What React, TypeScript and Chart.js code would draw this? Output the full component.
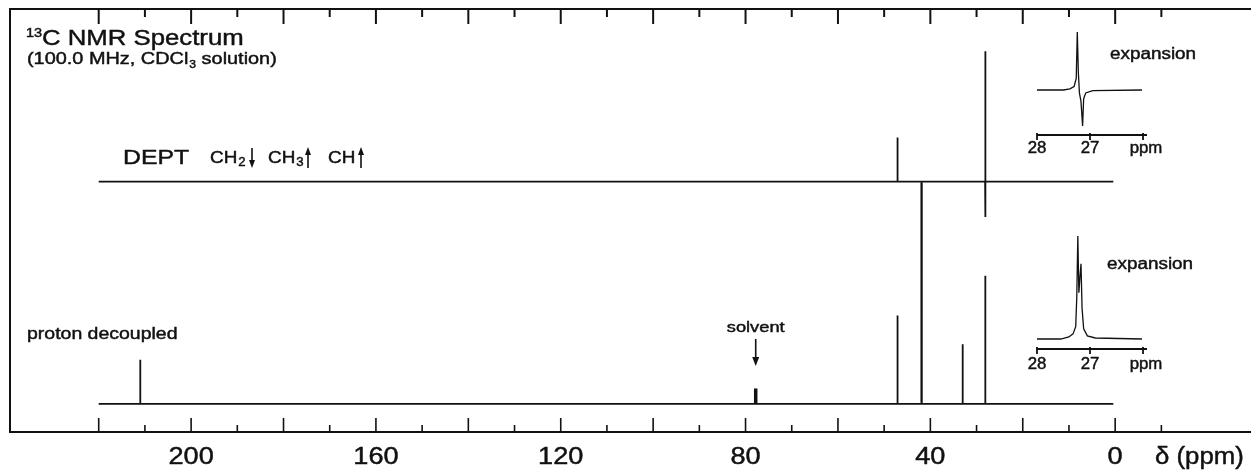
import React, { useEffect, useRef } from 'react';
import { Chart, registerables } from 'chart.js';
Chart.register(...registerables);

// ---------------- data ----------------
const traceStartPpm = 220;
const traceEndPpm = 0.4;
// proton decoupled spectrum (lower trace)
const decoupledShifts = [211.0, 47.1, 41.9, 33.0, 28.1];
const decoupledHeights = [20, 40, 100, 27, 58];
const solventShift = 77.8;
const solventHeight = 7;
// DEPT spectrum (upper trace); CH2 negative, CH/CH3 positive
const deptShifts = [47.1, 41.9, 28.15, 28.05];
const deptHeights = [20, -100, 59, -16];
// main axis
const axisTicks = [220, 210, 200, 190, 180, 170, 160, 150, 140, 130, 120, 110, 100, 90, 80, 70, 60, 50, 40, 30, 20, 10, 0, -10];
const axisLabels = [200, 160, 120, 80, 40, 0];
// expansions of the 27 ppm signal
const expansionTicks = [28, 27, 26];
const expansionTickLabels = ['28', '27', 'ppm'];
const deptExpPpm = [28.0, 27.5, 27.38, 27.3, 27.26, 27.24, 27.22, 27.2, 27.17, 27.14, 27.12, 27.08, 26.95, 26.02];
const deptExpInt = [0, 0, 2, 6, 20, 100, 30, -5, -20, -62, -15, -5, -1, 0];
const decExpPpm = [28.0, 27.55, 27.4, 27.32, 27.27, 27.25, 27.23, 27.21, 27.19, 27.17, 27.15, 27.12, 27.05, 26.9, 26.02];
const decExpInt = [0, 0, 2, 5, 12, 40, 100, 45, 60, 73, 30, 10, 3, 1, 0];

// ---------------- helpers ----------------
const INK = '#111';
const FONT = '"Liberation Sans", Arial, Helvetica, sans-serif';
const SX = 1.18;

function sticks(shifts: number[], heights: number[], from: number, to: number) {
  const order = shifts.map((_, i) => i).sort((a, b) => shifts[b] - shifts[a]);
  const pts: { x: number; y: number }[] = [{ x: from, y: 0 }];
  order.forEach((i) => {
    pts.push({ x: shifts[i], y: 0 }, { x: shifts[i], y: heights[i] }, { x: shifts[i], y: 0 });
  });
  pts.push({ x: to, y: 0 });
  return pts;
}

function curve(xs: number[], ys: number[]) {
  return xs.map((x, i) => ({ x, y: ys[i] }));
}

function txt(ctx: CanvasRenderingContext2D, s: string, x: number, y: number, size: number, align = 'left', sx = SX) {
  ctx.save();
  ctx.font = `${size}px ${FONT}`;
  ctx.textBaseline = 'alphabetic';
  ctx.textAlign = 'left';
  const w = ctx.measureText(s).width * sx;
  let x0 = x;
  if (align === 'center') x0 = x - w / 2;
  else if (align === 'right') x0 = x - w;
  ctx.translate(x0, y);
  ctx.scale(sx, 1);
  ctx.fillStyle = INK;
  ctx.strokeStyle = INK;
  ctx.lineWidth = 0.45;
  ctx.fillText(s, 0, 0);
  ctx.strokeText(s, 0, 0);
  ctx.restore();
  return x0 + w;
}

function line(ctx: CanvasRenderingContext2D, x1: number, y1: number, x2: number, y2: number, w: number) {
  ctx.save();
  ctx.strokeStyle = INK;
  ctx.lineWidth = w;
  ctx.beginPath();
  ctx.moveTo(x1, y1);
  ctx.lineTo(x2, y2);
  ctx.stroke();
  ctx.restore();
}

function arrow(ctx: CanvasRenderingContext2D, x: number, yFrom: number, yTo: number, head = 8, hw = 3) {
  const dir = yTo > yFrom ? 1 : -1;
  line(ctx, x, yFrom, x, yTo - dir * head * 0.6, 1.6);
  ctx.save();
  ctx.fillStyle = INK;
  ctx.beginPath();
  ctx.moveTo(x, yTo);
  ctx.lineTo(x - hw, yTo - dir * head);
  ctx.lineTo(x + hw, yTo - dir * head);
  ctx.closePath();
  ctx.fill();
  ctx.restore();
}

// ---------------- main chart plugin ----------------
const mainDecor = {
  id: 'mainDecor',
  afterDatasetsDraw(chart: any) {
    const ctx: CanvasRenderingContext2D = chart.ctx;
    const { left, right, top, bottom } = chart.chartArea;
    const xs = chart.scales.x;
    // frame
    line(ctx, left, top - 1, left, bottom + 1, 2);
    line(ctx, left, top, right, top, 2);
    line(ctx, left, bottom, right, bottom, 2);
    // ticks top & bottom
    axisTicks.forEach((v) => {
      const px = xs.getPixelForValue(v);
      const long = v % 20 === 0;
      line(ctx, px, bottom, px, bottom - (long ? 14 : 7), 1.6);
      line(ctx, px, top, px, top + (long ? 15 : 8), 2);
    });
    axisLabels.forEach((v) => {
      txt(ctx, String(v), xs.getPixelForValue(v), 464, 23, 'center');
    });
    txt(ctx, 'δ (ppm)', 1155, 464, 23, 'left', 1.12);

    // title block
    txt(ctx, '13', 26, 37, 13, 'left', 1.12);
    txt(ctx, 'C NMR Spectrum', 42, 45, 22, 'left', 1.17);
    let x = txt(ctx, '(100.0 MHz, CDCl', 27, 64, 17, 'left', 1.17);
    x = txt(ctx, '3', x + 1, 68, 11, 'left', 1.1);
    txt(ctx, ' solution)', x, 64, 17, 'left', 1.17);

    // DEPT label
    txt(ctx, 'DEPT', 123, 164, 21, 'left');
    x = txt(ctx, 'CH', 210, 163, 16, 'left');
    txt(ctx, '2', x + 1, 166, 12, 'left', 1.1);
    arrow(ctx, 252, 148, 168);
    x = txt(ctx, 'CH', 268, 163, 16, 'left');
    txt(ctx, '3', x + 1, 166, 12, 'left', 1.1);
    arrow(ctx, 308, 168, 147);
    txt(ctx, 'CH', 328, 163, 16, 'left');
    arrow(ctx, 361, 168, 147);

    // lower trace labels
    txt(ctx, 'proton decoupled', 27, 339, 16.5, 'left');
    const sx = xs.getPixelForValue(solventShift);
    txt(ctx, 'solvent', sx, 332, 15.5, 'center');
    arrow(ctx, sx, 339, 366, 9, 3.5);

    // expansion captions
    txt(ctx, 'expansion', 1110, 59, 16, 'left');
    txt(ctx, 'expansion', 1107, 269, 16, 'left');
  },
};

function makeInsetDecor(labelBaseline: number) {
  return {
    id: 'insetDecor',
    afterDatasetsDraw(chart: any) {
      const ctx: CanvasRenderingContext2D = chart.ctx;
      const { left, right, bottom } = chart.chartArea;
      const xs = chart.scales.x;
      line(ctx, left, bottom, right, bottom, 1.8);
      expansionTicks.forEach((v, i) => {
        const px = xs.getPixelForValue(v);
        line(ctx, px, bottom - 2, px, bottom + 5, 1.8);
        txt(ctx, expansionTickLabels[i], px + (i === 2 ? 3 : 0), labelBaseline, 16, 'center', 1.05);
      });
    },
  };
}

function baseOptions(xmin: number, xmax: number, ymin: number, ymax: number, padding: any) {
  return {
    animation: false,
    responsive: false,
    events: [],
    layout: { padding },
    plugins: { legend: { display: false }, tooltip: { enabled: false } },
    scales: {
      x: { type: 'linear', reverse: true, min: xmin, max: xmax, display: false },
      y: { type: 'linear', min: ymin, max: ymax, display: false },
    },
  };
}

export default function App() {
  const mainRef = useRef<HTMLCanvasElement>(null);
  const inset1Ref = useRef<HTMLCanvasElement>(null);
  const inset2Ref = useRef<HTMLCanvasElement>(null);

  useEffect(() => {
    const main = new Chart(mainRef.current as HTMLCanvasElement, {
      type: 'scatter',
      data: {
        datasets: [
          {
            label: 'DEPT',
            data: sticks(deptShifts, deptHeights, traceStartPpm, traceEndPpm),
            yAxisID: 'yd',
            showLine: true,
            borderColor: INK,
            borderWidth: 1.8,
            pointRadius: 0,
          },
          {
            label: 'proton decoupled',
            data: sticks(decoupledShifts, decoupledHeights, traceStartPpm, traceEndPpm),
            yAxisID: 'y',
            showLine: true,
            borderColor: INK,
            borderWidth: 1.8,
            pointRadius: 0,
          },
          {
            label: 'solvent',
            data: [
              { x: solventShift, y: 0 },
              { x: solventShift, y: solventHeight },
            ],
            yAxisID: 'y',
            showLine: true,
            borderColor: INK,
            borderWidth: 3.5,
            pointRadius: 0,
          },
        ],
      },
      options: {
        animation: false,
        responsive: false,
        events: [],
        layout: { padding: { left: 10, top: 9, right: 0, bottom: 42 } },
        plugins: { legend: { display: false }, tooltip: { enabled: false } },
        scales: {
          x: { type: 'linear', reverse: true, min: -29.4, max: 239.2, display: false },
          y: { type: 'linear', min: -12.7, max: 178.7, display: false },
          yd: { type: 'linear', min: -113.3, max: 78.1, display: false },
        },
      } as any,
      plugins: [mainDecor],
    } as any);

    const inset1 = new Chart(inset1Ref.current as HTMLCanvasElement, {
      type: 'scatter',
      data: {
        datasets: [
          {
            label: 'DEPT expansion',
            data: curve(deptExpPpm, deptExpInt),
            showLine: true,
            borderColor: INK,
            borderWidth: 1.3,
            pointRadius: 0,
            tension: 0,
          },
        ],
      },
      options: baseOptions(25.925, 28.0, -77.6, 106.9, { left: 17, right: 23, top: 8, bottom: 25 }) as any,
      plugins: [makeInsetDecor(133)],
    } as any);

    const inset2 = new Chart(inset2Ref.current as HTMLCanvasElement, {
      type: 'scatter',
      data: {
        datasets: [
          {
            label: 'decoupled expansion',
            data: curve(decExpPpm, decExpInt),
            showLine: true,
            borderColor: INK,
            borderWidth: 1.3,
            pointRadius: 0,
            tension: 0,
          },
        ],
      },
      options: baseOptions(25.925, 28.0, -9.7, 103.9, { left: 17, right: 23, top: 7, bottom: 26 }) as any,
      plugins: [makeInsetDecor(144)],
    } as any);

    return () => {
      main.destroy();
      inset1.destroy();
      inset2.destroy();
    };
  }, []);

  return (
    <div style={{ position: 'fixed', left: 0, top: 0, width: 1251, height: 474, background: '#fff', overflow: 'hidden' }}>
      <canvas ref={mainRef} width={1251} height={474} style={{ position: 'absolute', left: 0, top: 0 }} />
      <canvas ref={inset1Ref} width={150} height={140} style={{ position: 'absolute', left: 1020, top: 20 }} />
      <canvas ref={inset2Ref} width={150} height={150} style={{ position: 'absolute', left: 1020, top: 225 }} />
    </div>
  );
}
